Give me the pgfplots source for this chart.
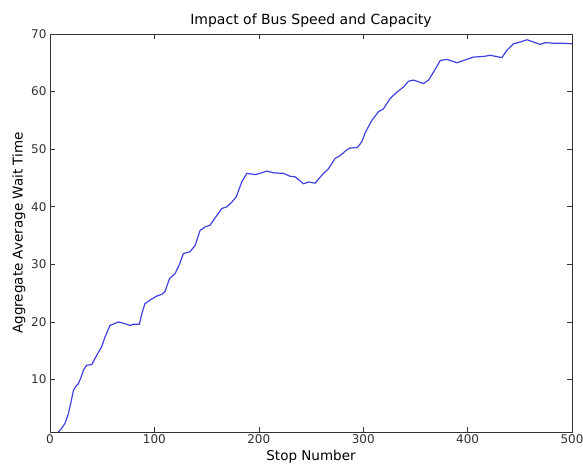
\documentclass[border=0pt]{standalone}
\usepackage{fontspec}
\setmainfont{DejaVu Sans}
\usepackage{pgfplots}
\pgfplotsset{compat=1.18}
\usetikzlibrary{calc}
\definecolor{lineblue}{RGB}{65,65,225}
\definecolor{axgray}{RGB}{50,50,50}
\begin{document}
\begin{tikzpicture}
\begin{axis}[
  scale only axis,
  width=522pt, height=398pt,
  xmin=0, xmax=500, ymin=0.9, ymax=70,
  xtick={0,100,200,300,400,500},
  ytick={10,20,30,40,50,60,70},
  tick align=inside,
  major tick length=5pt,
  axis line style={axgray, line width=0.9pt},
  every tick/.style={axgray, line width=0.6pt},
  tick label style={font=\fontsize{12}{14}\selectfont, text=axgray},
  xticklabel style={yshift=1pt},
  /pgf/number format/assume math mode=true,
  title={Impact of Bus Speed and Capacity},
  title style={font=\fontsize{14}{16}\selectfont, yshift=-3pt},
  xlabel={Stop Number},
  ylabel={Aggregate Average Wait Time},
  label style={font=\fontsize{13.5}{15}\selectfont},
  xlabel style={yshift=0pt},
  ylabel style={yshift=-1pt},
]
\addplot[lineblue, line width=1.2pt] coordinates {
(8,0.9) (11,1.5) (14.4,2.4) (17.6,4.1) (20,6) (22.4,8.1) (25,8.9) (27.2,9.3)
(30,10.5) (31.9,11.6) (35.1,12.5) (40,12.6) (44.7,14.2) (49.5,15.7) (52.7,17.4)
(57.5,19.4) (65.5,20.0) (71.9,19.7) (76.7,19.4) (79.8,19.6) (85.6,19.6) (88,21.5)
(91,23.2) (95.8,23.8) (102.3,24.5) (107,24.8) (110.2,25.3) (114.4,27.5) (119.8,28.4)
(124,30) (127.8,31.9) (134.2,32.2) (139,33.3) (143.8,35.9) (148.5,36.5) (153.3,36.8)
(159.8,38.5) (164.6,39.7) (169.4,40) (174.1,40.8) (178.3,41.7) (183.7,44.3) (188.5,45.8)
(196.5,45.6) (201,45.8) (207.7,46.2) (214,45.9) (223.6,45.8) (230,45.3) (234.8,45.2)
(242.8,44.0) (247.6,44.3) (254,44.1) (260.4,45.5) (266.7,46.6) (273.1,48.4) (278,48.9)
(284.4,49.9) (287.5,50.2) (294.5,50.3) (298.7,51.3) (302,52.9) (308.3,55) (314.6,56.5)
(319.4,57.0) (325.8,58.8) (332.3,59.9) (338.6,60.8) (343.4,61.8) (348.2,62.0) (353,61.7)
(357.8,61.4) (362.6,62.0) (367.4,63.4) (373.8,65.4) (380.2,65.6) (389.8,65.0) (397.7,65.5)
(405.7,66.0) (415.3,66.1) (421.7,66.3) (432.9,65.9) (437.7,67.2) (444,68.3) (450.4,68.6)
(456.9,69.0) (463.2,68.6) (469.6,68.2) (474.4,68.5) (482.4,68.4) (490.4,68.4) (500,68.3)
};
\end{axis}
\pgfresetboundingbox
\path[use as bounding box] ($(current axis.south west)+(-50pt,-36pt)$) rectangle ($(current axis.north east)+(11pt,34pt)$);
\end{tikzpicture}
\end{document}
